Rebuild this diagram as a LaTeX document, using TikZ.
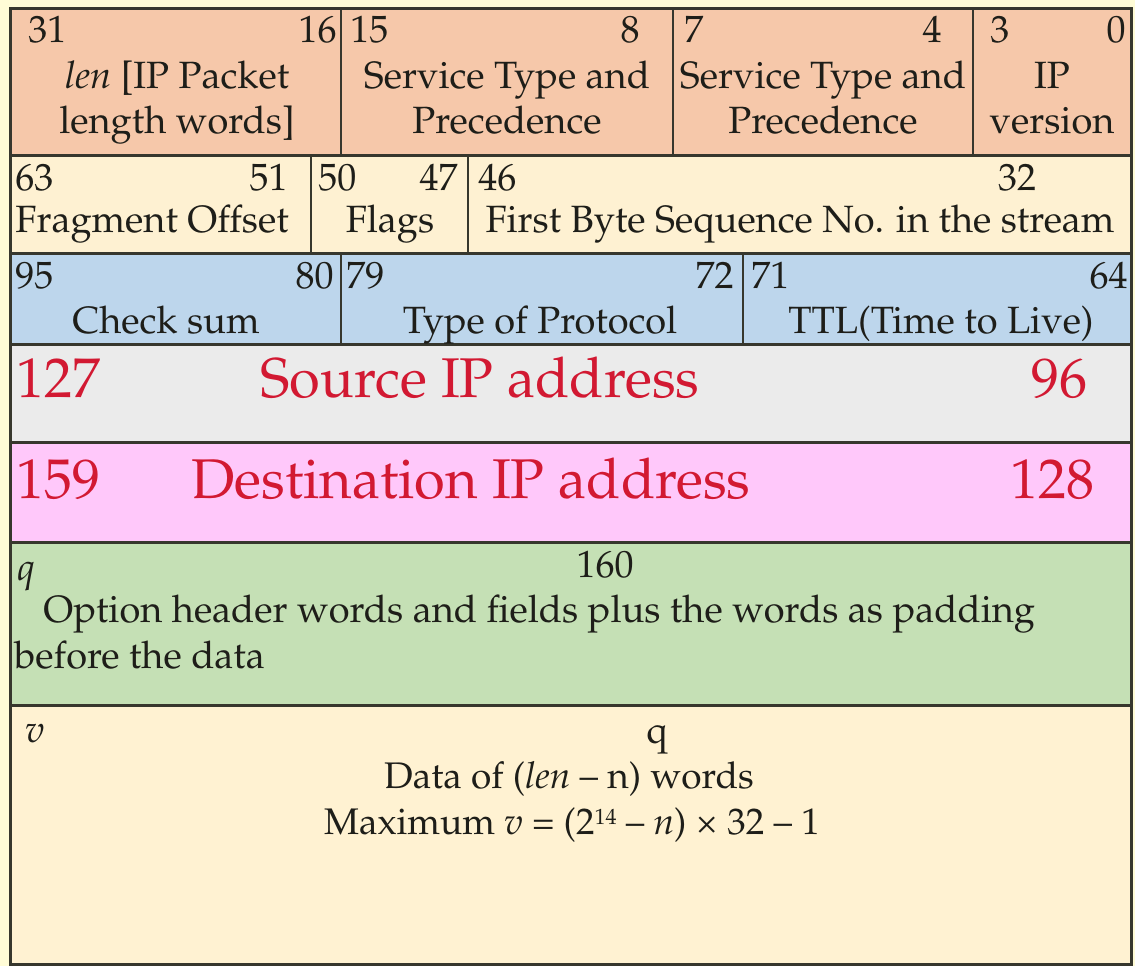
\documentclass[tikz,border=0pt]{standalone}
\usepackage[T1]{fontenc}
\usepackage{mathpazo}
\usepackage{xcolor}
\definecolor{bgY}{RGB}{255,252,214}
\definecolor{rowA}{RGB}{246,200,170}
\definecolor{rowB}{RGB}{254,241,210}
\definecolor{rowC}{RGB}{189,214,236}
\definecolor{rowD}{RGB}{235,235,235}
\definecolor{rowE}{RGB}{255,200,250}
\definecolor{rowF}{RGB}{197,224,181}
\definecolor{rowG}{RGB}{255,242,210}
\definecolor{ink}{RGB}{30,30,25}
\definecolor{redink}{RGB}{210,25,50}
\definecolor{linec}{RGB}{55,55,45}
\newcommand{\smallsup}[1]{\raisebox{0.55ex}{\fontsize{11}{11}\selectfont #1}}
\begin{document}
\begin{tikzpicture}[x=0.5pt,y=-0.5pt,
  txt/.style={inner sep=0pt, font=\fontsize{19}{22}\selectfont, text=ink},
  bw/.style={txt, anchor=base west},
  be/.style={txt, anchor=base east},
  bc/.style={txt, anchor=base},
  datatxt/.style={inner sep=0pt, font=\fontsize{18.5}{20}\selectfont, text=ink, anchor=base},
  redtxt/.style={inner sep=0pt, font=\fontsize{28}{32}\selectfont, text=redink},
  hsep/.style={line width=1.5pt, draw=linec},
  vsep/.style={line width=1pt, draw=linec}]
\useasboundingbox (0,0) rectangle (1135,966);
\fill[bgY] (0,0) rectangle (1135,966);
% row fills
\fill[rowA] (10,8) rectangle (1131,155);
\fill[rowB] (10,155) rectangle (1131,253);
\fill[rowC] (10,253) rectangle (1131,344);
\fill[rowD] (10,344) rectangle (1131,442);
\fill[rowE] (10,442) rectangle (1131,542);
\fill[rowF] (10,542) rectangle (1131,705);
\fill[rowG] (10,705) rectangle (1131,964);
% horizontal separators
\draw[hsep] (10,155) -- (1131,155);
\draw[hsep] (10,253) -- (1131,253);
\draw[hsep] (10,344) -- (1131,344);
\draw[hsep] (10,442) -- (1131,442);
\draw[hsep] (10,542) -- (1131,542);
\draw[hsep] (10,705) -- (1131,705);
% vertical separators
\draw[vsep] (341,8) -- (341,155);
\draw[vsep] (673,8) -- (673,155);
\draw[vsep] (973,8) -- (973,155);
\draw[vsep] (311,155) -- (311,253);
\draw[vsep] (468,155) -- (468,253);
\draw[vsep] (341,253) -- (341,344);
\draw[vsep] (743,253) -- (743,344);
% outer frame
\draw[hsep] (10,8) rectangle (1131,964);
% row 1
\node[bw] (n31) at (28,42) {31};
\node[be] (n16) at (337,42) {16};
\node[bw] (n15) at (350,42) {15};
\node[be] (n8) at (640,42) {8};
\node[bw] (n7) at (684,42) {7};
\node[be] (n4) at (942,42) {4};
\node[bw] (n3) at (990,42) {3};
\node[be] (n0) at (1126,42) {0};
\node[bc] (lenA) at (177,88) {\textit{len} [IP Packet};
\node[bc] (lenB) at (177,133) {length words]};
\node[bc] (stpA) at (507,88) {Service Type and};
\node[bc] (stpB) at (507,133) {Precedence};
\node[bc] (stqA) at (823,88) {Service Type and};
\node[bc] (stqB) at (823,133) {Precedence};
\node[bc] (ipvA) at (1052,88) {IP};
\node[bc] (ipvB) at (1052,133) {version};
% row 2
\node[bw] (n63) at (15,190) {63};
\node[be] (n51) at (288,190) {51};
\node[bw] (n50) at (318,190) {50};
\node[be] (n47) at (458,190) {47};
\node[bw] (n46) at (478,190) {46};
\node[bc] (n32) at (1017,190) {32};
\node[bc] (frag) at (152,232) {Fragment Offset};
\node[bc] (flags) at (390,232) {Flags};
\node[bc] (fbs) at (800,232) {First Byte Sequence No. in the stream};
% row 3
\node[bw] (n95) at (15,288) {95};
\node[be] (n80) at (334,288) {80};
\node[bw] (n79) at (346,288) {79};
\node[be] (n72) at (734,288) {72};
\node[bw] (n71) at (751,288) {71};
\node[be] (n64) at (1128,288) {64};
\node[bc] (chk) at (166,333) {Check sum};
\node[bc] (top) at (540,333) {Type of Protocol};
\node[bc] (ttl) at (941,333) {TTL(Time to Live)};
% row 4
\node[redtxt, anchor=base west] (n127) at (16,397) {127};
\node[redtxt, anchor=base] (src) at (480,397) {Source IP address};
\node[redtxt, anchor=base east] (n96) at (1088,397) {96};
% row 5
\node[redtxt, anchor=base west] (n159) at (16,498) {159};
\node[redtxt, anchor=base] (dst) at (471,498) {Destination IP address};
\node[redtxt, anchor=base east] (n128) at (1095,498) {128};
% row 6
\node[bw] (qA) at (17,580) {\textit{q}};
\node[bc] (n160) at (605,577) {160};
\node[bw] (optA) at (43,622) {Option header words and fields plus the words as padding};
\node[bw] (optB) at (14,668) {before the data};
% row 7
\node[bw] (vA) at (25,742) {\textit{v}};
\node[bc] (qB) at (657,743) {q};
\node[datatxt] (dataA) at (569,788) {Data of (\textit{len} -- n) words};
\node[datatxt] (dataB) at (572,834) {Maximum \textit{v} = (2\smallsup{14} -- \textit{n}) \texttimes{} 32 -- 1};
\end{tikzpicture}
\end{document}
